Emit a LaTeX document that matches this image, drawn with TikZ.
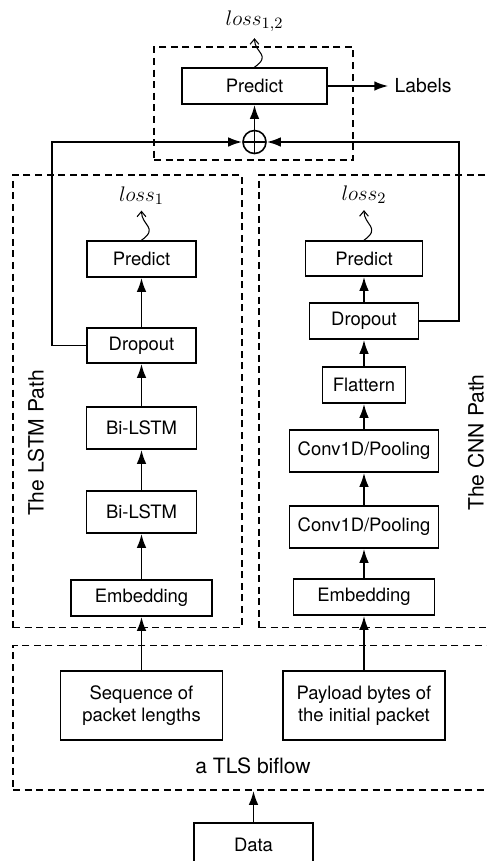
\documentclass[tikz,border=0pt]{standalone}
\usepackage{fontspec}
\setmainfont{TeX Gyre Heros}
\usepackage{tikz}
\usetikzlibrary{shapes.geometric, arrows.meta}
\tikzstyle{block} = [rectangle, draw, line width=0.9pt, inner sep=0pt, minimum height=0.72cm, font=\fontsize{10.5}{12.5}\selectfont]
\tikzstyle{tall} = [block, minimum height=0.84cm]
\tikzstyle{pathbox} = [rectangle, draw, dash pattern=on 4pt off 2.6pt, line width=0.9pt, inner sep=0pt]
\tikzstyle{sumnode} = [circle, draw, line width=0.9pt, minimum size=0.46cm, inner sep=0pt,
  path picture={\draw[line width=0.9pt] (path picture bounding box.north) -- (path picture bounding box.south)
    (path picture bounding box.west) -- (path picture bounding box.east);}]
\tikzstyle{loss} = [font=\fontsize{12.5}{14}\selectfont]
\tikzstyle{pathname} = [rotate=90, font=\fontsize{12}{14}\selectfont]
\tikzstyle{line} = [draw, line width=1.1pt, -{Latex[length=8pt,width=5.5pt]}]
\tikzstyle{wavy} = [draw, line width=0.6pt, -{Straight Barb[length=3pt,width=5pt]}]

\begin{document}
\begin{tikzpicture}[node distance=1.7cm]
\path [use as bounding box, clip] (0,0) rectangle (9.72,-17.22);

% dashed groups
\node [pathbox, minimum width=3.98cm, minimum height=2.26cm] (topbox) at (5.07,-2.07) {};
\node [pathbox, minimum width=4.58cm, minimum height=9.05cm] (lstmbox) at (2.55,-8.025) {};
\node [pathbox, minimum width=4.58cm, minimum height=9.05cm] (cnnbox) at (7.47,-8.025) {};
\node [pathbox, minimum width=9.62cm, minimum height=2.89cm] (tls) at (5.07,-14.355) {};

\node [pathname] (lname) at (0.72,-8.86) {The LSTM Path};
\node [pathname] (cname) at (9.52,-8.85) {The CNN Path};

% output part
\node [block, minimum width=2.9cm] (tpred) at (5.09,-1.72) {Predict};
\node [sumnode, below of=tpred, node distance=1.12cm] (sum) {};
\node [loss, above of=tpred, node distance=1.29cm] (l12) {$loss_{1,2}$};
\node [right of=tpred, node distance=3.37cm, font=\fontsize{11}{13}\selectfont] (labels) {Labels};

% LSTM path
\node [block, minimum width=2.82cm] (lemb) at (2.83,-11.96) {Embedding};
\node [tall, minimum width=2.2cm, above of=lemb, node distance=1.72cm] (lbi2) {Bi-LSTM};
\node [tall, minimum width=2.2cm, above of=lbi2, node distance=1.68cm] (lbi1) {Bi-LSTM};
\node [block, minimum width=2.18cm, minimum height=0.7cm, above of=lbi1, node distance=1.65cm] (ldrop) {Dropout};
\node [block, minimum width=2.18cm, above of=ldrop, node distance=1.73cm] (lpred) {Predict};
\node [loss, above of=lpred, node distance=1.27cm] (l1) {$loss_1$};

% CNN path
\node [block, minimum width=2.82cm] (cemb) at (7.28,-11.94) {Embedding};
\node [tall, minimum width=2.98cm, above of=cemb, node distance=1.4cm] (cconv2) {Conv1D/Pooling};
\node [tall, minimum width=2.98cm, above of=cconv2, node distance=1.52cm] (cconv1) {Conv1D/Pooling};
\node [block, minimum width=1.66cm, above of=cconv1, node distance=1.32cm] (cflat) {Flattern};
\node [block, minimum width=2.18cm, above of=cflat, node distance=1.28cm] (cdrop) {Dropout};
\node [block, minimum width=2.34cm, minimum height=0.7cm, above of=cdrop, node distance=1.25cm] (cpred) {Predict};
\node [loss, above of=cpred, node distance=1.27cm] (l2) {$loss_2$};

% input
\node [block, minimum width=3.24cm, minimum height=1.38cm, align=center] (seq) at (2.83,-14.11) {Sequence of\\packet lengths};
\node [block, minimum width=3.24cm, minimum height=1.38cm, align=center, right of=seq, node distance=4.45cm] (pay) {Payload bytes of\\the initial packet};
\node [font=\fontsize{12}{14}\selectfont] (biflow) at (5.06,-15.31) {a TLS biflow};
\node [block, minimum width=2.38cm, minimum height=0.88cm] (data) at (5.07,-16.9) {Data};

\path [line] (data) -- (tls.south);
\path [line] (seq) -- (lemb);
\path [line] (pay) -- (cemb);

\path [line] (lemb) -- (lbi2);
\path [line] (lbi2) -- (lbi1);
\path [line] (lbi1) -- (ldrop);
\path [line] (ldrop) -- (lpred);

\path [line] (cemb) -- (cconv2);
\path [line] (cconv2) -- (cconv1);
\path [line] (cconv1) -- (cflat);
\path [line] (cflat) -- (cdrop);
\path [line] (cdrop) -- (cpred);

\path [line] (ldrop.west) -- ++(-0.68,0) |- (sum.west);
\path [line] (cdrop.east) -- ++(0.8,0) |- (sum.east);
\path [line] (sum) -- (tpred);
\path [line] (tpred) -- (labels);

\path [wavy] (lpred.north) .. controls +(0.35,0.25) and +(0,-0.3) .. (l1.south);
\path [wavy] (cpred.north) .. controls +(0.35,0.25) and +(0,-0.3) .. (l2.south);
\path [wavy] (tpred.north) .. controls +(0.35,0.25) and +(0,-0.3) .. (l12.south);

\end{tikzpicture}
\end{document}
